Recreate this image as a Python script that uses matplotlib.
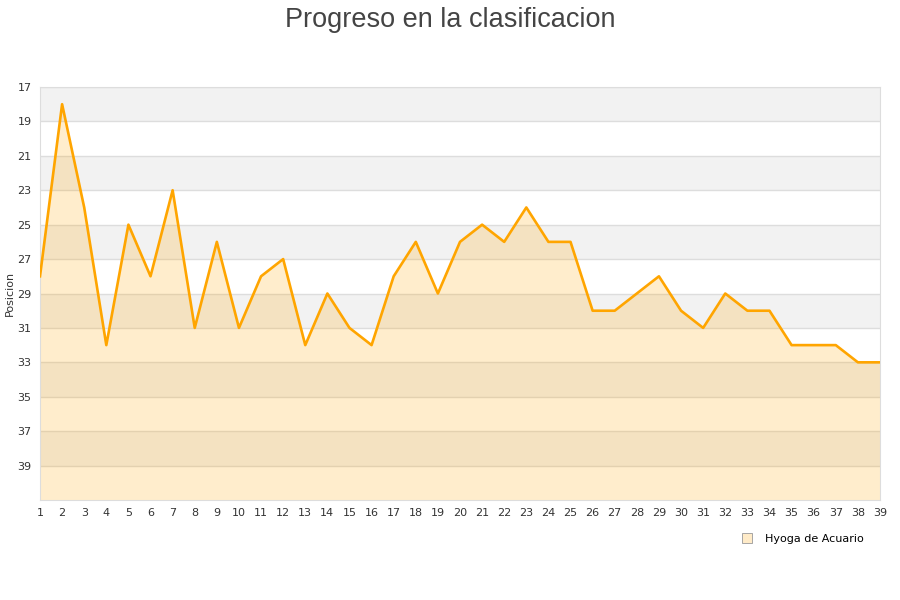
import matplotlib
matplotlib.use("Agg")
import matplotlib.pyplot as plt
import numpy as np

jornadas = list(range(1, 40))
posicion = [28, 18, 24, 32, 25, 28, 23, 31, 26, 31, 28, 27, 32, 29, 31, 32, 28, 26, 29, 26,
            25, 26, 24, 26, 26, 30, 30, 29, 28, 30, 31, 29, 30, 30, 32, 32, 32, 33, 33]
yticks = list(range(17, 40, 2))
series_name = "Hyoga de Acuario"
title = "Progreso en la clasificacion"
ylabel = "Posicion"

fig = plt.figure(figsize=(9, 6), dpi=100)
ax = fig.add_axes([40/900, 1-500/600, 840/900, 413/600])

ymin, ymax = 17, 41
# alternating bands
for i, y0 in enumerate(range(17, 41, 2)):
    if i % 2 == 0:
        ax.axhspan(y0, y0 + 2, color="#f2f2f2", zorder=0, lw=0)
for t in yticks:
    ax.axhline(t, color="#dddddd", lw=1, zorder=1)

ax.fill_between(jornadas, posicion, ymax, color="#FFA500", alpha=0.2, lw=0, zorder=2)
ax.plot(jornadas, posicion, color="#FFA500", lw=1.9, zorder=3)

ax.set_xlim(1, 39)
ax.set_ylim(ymax, ymin)
ax.set_yticks(yticks)
ax.set_xticks(jornadas)
ax.tick_params(axis="both", length=0, labelsize=8, colors="#333333", pad=6)
for s in ax.spines.values():
    s.set_color("#dddddd")
ax.set_ylabel(ylabel, fontsize=8, color="#333333", labelpad=2)

fig.text(0.5, 1-27/600, title, ha="center", va="baseline", fontsize=19.5,
         color="#444444", family=["Liberation Sans", "DejaVu Sans"])

handle = plt.Line2D([], [], marker="s", ls="none", markersize=7,
                    markerfacecolor="#FFEBC8", markeredgecolor="#999999", markeredgewidth=0.6)
fig.legend([handle], [series_name], loc="center", bbox_to_anchor=(800/900, 1-539/600),
           frameon=False, fontsize=8, handletextpad=0.6)

fig.savefig("out.png", dpi=100)
